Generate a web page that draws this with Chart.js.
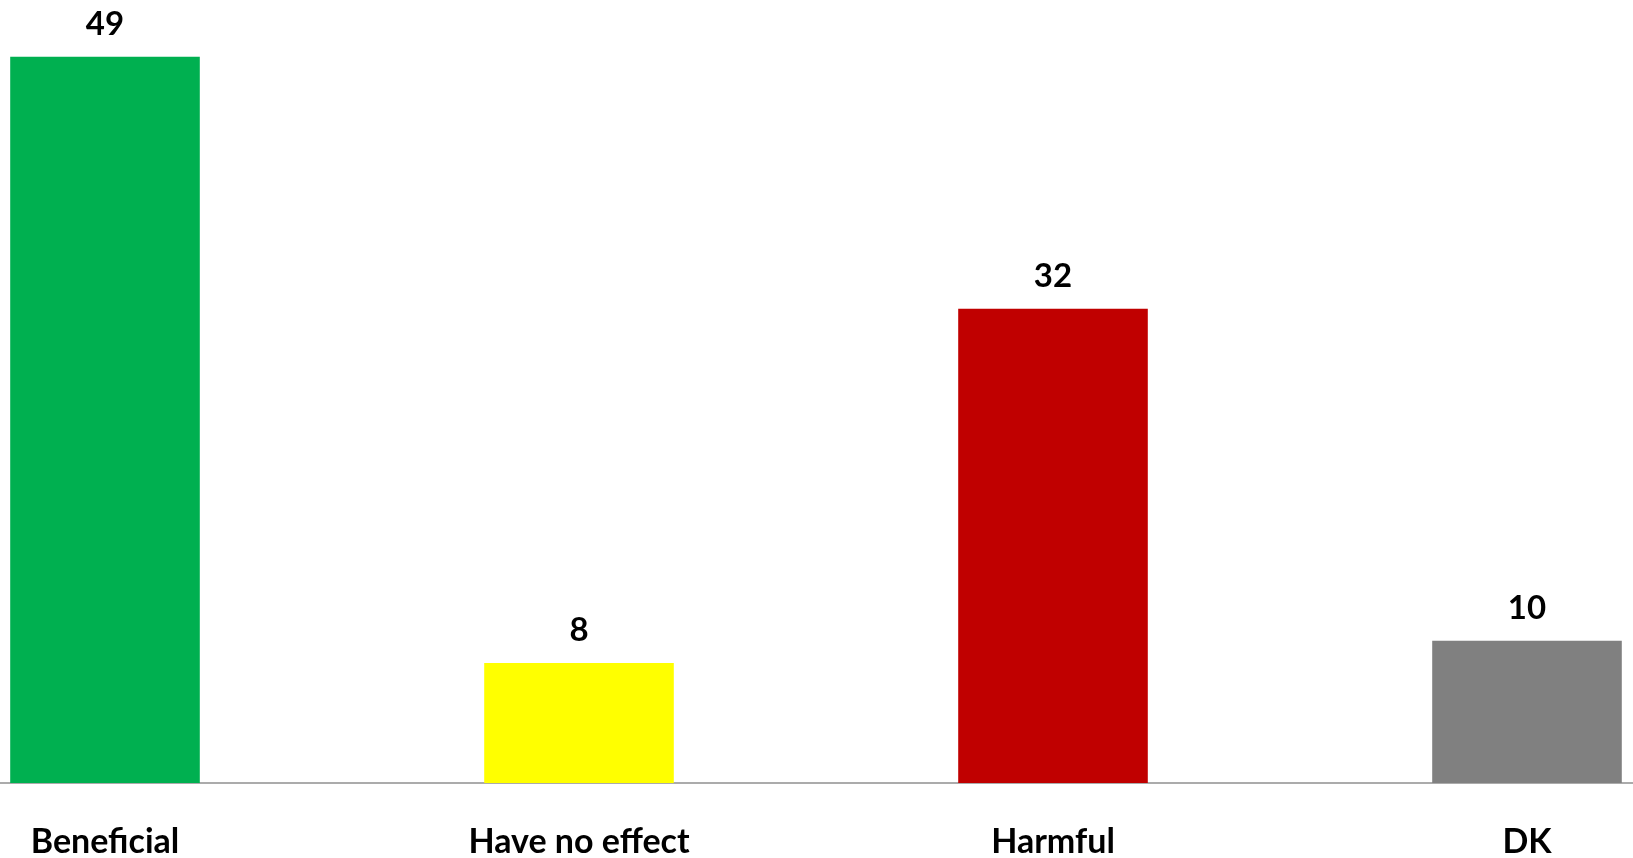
<!DOCTYPE html>
<html>
<head>
<meta charset="utf-8">
<script src="https://cdn.jsdelivr.net/npm/chart.js@4/dist/chart.umd.min.js"></script>
<style>
  html, body { margin: 0; padding: 0; background: #fff; overflow: hidden; width: 1633px; height: 858px; }
  #wrap { position: absolute; left: -132px; top: 0; width: 1896px; height: 901px; }
</style>
</head>
<body>
<div id="wrap"><canvas id="answerChart"></canvas></div>
<script>
const categories = ['Beneficial', 'Have no effect', 'Harmful', 'DK'];
const percents = [49, 8.1, 32, 9.6];
const barColors = ['#00B050', '#FFFF00', '#C00000', '#808080'];

// value labels above each bar
const valueLabels = {
    id: 'valueLabels',
    afterDatasetsDraw(chart) {
        const ctx = chart.ctx;
        const meta = chart.getDatasetMeta(0);
        ctx.save();
        ctx.font = 'bold 33px Lato';
        ctx.fillStyle = '#000';
        ctx.textAlign = 'center';
        ctx.textBaseline = 'alphabetic';
        meta.data.forEach((bar, i) => {
            ctx.fillText(Math.round(percents[i]), bar.x, bar.y - 22);
        });
        ctx.restore();
    }
};

const ctx = document.getElementById('answerChart');

new Chart(ctx, {
    type: 'bar',
    data: {
        labels: categories,
        datasets: [{
            data: percents,
            backgroundColor: barColors,
            borderWidth: 0,
            categoryPercentage: 1,
            barPercentage: 0.4
        }]
    },
    options: {
        responsive: true,
        maintainAspectRatio: false,
        animation: false,
        layout: { padding: { top: 42, left: 0, right: 0, bottom: 0 } },
        plugins: {
            legend: { display: false },
            tooltip: { enabled: false }
        },
        scales: {
            x: {
                grid: { display: false, drawTicks: false },
                border: { display: true, color: '#ababab', width: 2 },
                ticks: {
                    color: '#000',
                    padding: 42,
                    font: { family: 'Lato', size: 34, weight: 'bold', lineHeight: 1 }
                }
            },
            y: {
                display: false,
                min: 0,
                max: 50
            }
        }
    },
    plugins: [valueLabels]
});
</script>
</body>
</html>
